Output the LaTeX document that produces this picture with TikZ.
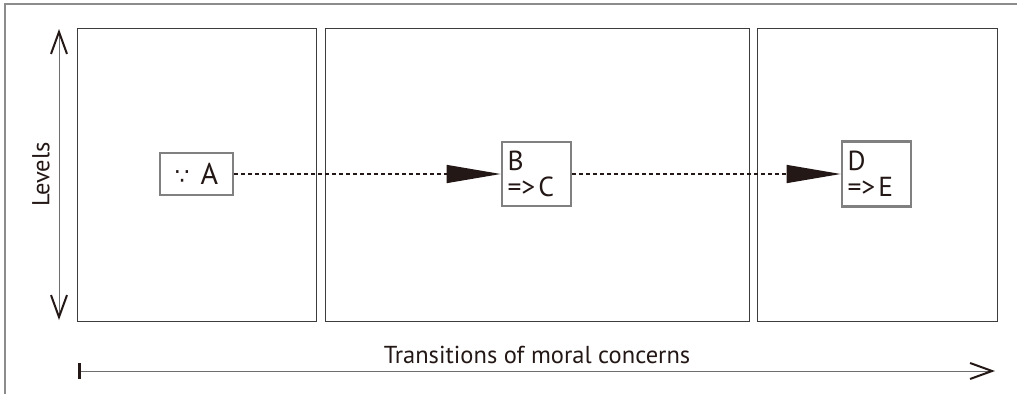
\documentclass[tikz,border=0pt]{standalone}
\usepackage{fontspec}
\setmainfont{PT Sans}
\newfontfamily\symfont{DejaVu Sans}
\usetikzlibrary{arrows.meta}
\definecolor{ink}{HTML}{231815}
\definecolor{framegray}{HTML}{8C8C8C}
\definecolor{boxgray}{HTML}{808080}
\definecolor{panelline}{HTML}{3C3C3C}
\definecolor{shaftgray}{HTML}{6E6E6E}

\tikzset{
  barb/.tip={Straight Barb[length=22pt, width=16pt, line width=2pt, color=ink]},
  startbar/.tip={Bar[width=16pt, line width=3pt, color=ink]}
}

\begin{document}
\begin{tikzpicture}[x=1pt,y=-1pt,
  panel/.style={draw=panelline, line width=1.2pt, inner sep=0pt, anchor=north west},
  statebox/.style={draw=boxgray, line width=2.6pt, fill=white, inner sep=0pt,
    text=ink, font=\fontsize{30}{30}\selectfont},
  twoline/.style={statebox, align=left, text width=58pt,
    font=\fontsize{27.5}{26}\selectfont},
  flow/.style={draw=ink, line width=1.3pt, dash pattern=on 4pt off 3pt,
    -{Triangle[length=54pt, width=18pt, fill=ink, sep=0pt]}},
  axis/.style={draw=shaftgray, line width=1pt},
  label/.style={font=\fontsize{24.5}{24.5}\selectfont, text=ink, inner sep=0pt}]
\useasboundingbox (0,0) rectangle (1017,394);

% outer frame: top and left edges
\draw[framegray, line width=1.5pt] (5,394) -- (5,4) -- (1017,4);

% three panels
\node[panel, minimum width=239pt, minimum height=293pt] (p1) at (77,28) {};
\node[panel, minimum width=424pt, minimum height=293pt] (p2) at (324.5,28) {};
\node[panel, minimum width=240pt, minimum height=293pt] (p3) at (756.5,28) {};

% vertical axis
\coordinate (ltop) at (59,29);
\coordinate (lbot) at (59,320);
\draw[axis, barb-barb] (ltop) -- (lbot);
\node[label, rotate=90] (levels) at (41,174.5) {Levels};

% horizontal axis
\coordinate (tstart) at (78,371);
\coordinate (tend) at (995,371);
\draw[axis, startbar-barb] (tstart) -- (tend);
\node[label, anchor=base] (trans) at (537,363) {Transitions of moral concerns};

% states
\node[statebox, minimum width=73pt, minimum height=42pt] (A) at (196.5,174)
  {{\symfont\fontsize{23}{23}\selectfont ∵}\hspace{11pt}A};
\node[twoline, minimum width=69pt, minimum height=64pt] (B) at (536.5,174)
  {B\\=>\hspace{3pt}C};
\node[twoline, minimum width=69pt, minimum height=65pt] (D) at (876.5,174)
  {D\\=>\hspace{3pt}E};

% transitions
\draw[flow] (A) -- (B);
\draw[flow] (B) -- (D);
\end{tikzpicture}
\end{document}
